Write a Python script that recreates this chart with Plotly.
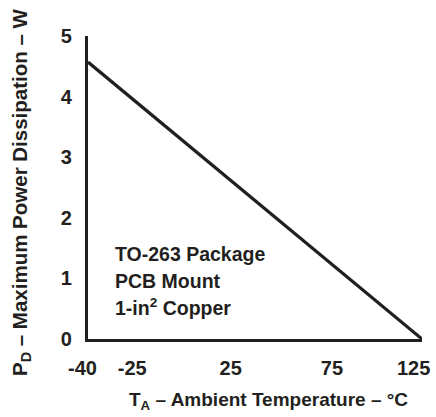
import plotly.graph_objects as go

# Data
temperature_c = [-40, 125]
power_w = [4.57, 0]
x_ticks = [-40, -25, 25, 75, 125]
y_ticks = [0, 1, 2, 3, 4, 5]
note_lines = ["TO-263 Package", "PCB Mount", "1-in<sup>2</sup> Copper"]

# label padding (non-breaking spaces) to mimic the reference's label placement
NB = "\u00a0"
x_pad = {-40: (0, 2), -25: (5, 0), 25: (4, 0), 75: (4, 0), 125: (0, 3)}
x_ticktext = [NB * x_pad[v][0] + str(v) + NB * x_pad[v][1] for v in x_ticks]

FONT = "Liberation Sans, Arial, Helvetica, sans-serif"
INK = "#231f20"
W, H = 436, 417
L, R, T, B = 88, 14, 36, 78
pw, ph = W - L - R, H - T - B

def px_to_paper(px, py):
    return (px - L) / pw, (H - B - py) / ph

fig = go.Figure()
fig.add_trace(go.Scatter(
    x=temperature_c, y=power_w, mode="lines",
    line=dict(color=INK, width=3.2),
    cliponaxis=False, hoverinfo="skip", showlegend=False,
))

annotations = []
for i, line in enumerate(note_lines):
    ax, ay = px_to_paper(113, 254 + i * 26.5)
    annotations.append(dict(
        text=line, x=ax, y=ay, xref="paper", yref="paper",
        xanchor="left", yanchor="middle", showarrow=False,
        font=dict(family=FONT, size=19.5, color=INK, weight="bold"),
    ))

tx, ty = px_to_paper(268, 401)
annotations.append(dict(
    text="T<sub>A</sub> – Ambient Temperature – °C", x=tx, y=ty,
    xref="paper", yref="paper", xanchor="center", yanchor="middle",
    showarrow=False,
    font=dict(family=FONT, size=19, color=INK, weight="bold"),
))
yx, yy = px_to_paper(21, 192)
annotations.append(dict(
    text="P<sub>D</sub> – Maximum Power Dissipation – W", x=yx, y=yy,
    xref="paper", yref="paper", xanchor="center", yanchor="middle",
    textangle=-90, showarrow=False,
    font=dict(family=FONT, size=20.5, color=INK, weight="bold"),
))

fig.update_layout(
    width=W, height=H,
    margin=dict(l=L, r=R, t=T, b=B, autoexpand=False),
    paper_bgcolor="white", plot_bgcolor="white",
    annotations=annotations,
    hovermode=False,
    xaxis=dict(
        range=[-40, 125], tickvals=x_ticks, ticktext=x_ticktext,
        showgrid=False, zeroline=False, showline=True, linecolor=INK,
        linewidth=3.2, ticks="", ticklabelstandoff=9, tickangle=0,
        automargin=False, ticklabeloverflow="allow",
        tickfont=dict(family=FONT, size=20, color=INK, weight="bold"),
    ),
    yaxis=dict(
        range=[0, 5], tickvals=y_ticks, ticktext=[str(v) for v in y_ticks],
        showgrid=False, zeroline=False, showline=True, linecolor=INK,
        linewidth=3.2, ticks="", ticklabelstandoff=9, automargin=False,
        ticklabeloverflow="allow",
        tickfont=dict(family=FONT, size=20, color=INK, weight="bold"),
    ),
)

fig.write_html(
    "out.html",
    config={"displayModeBar": False, "staticPlot": True},
    post_script="document.body.style.margin='0';document.body.style.overflow='hidden';",
)
